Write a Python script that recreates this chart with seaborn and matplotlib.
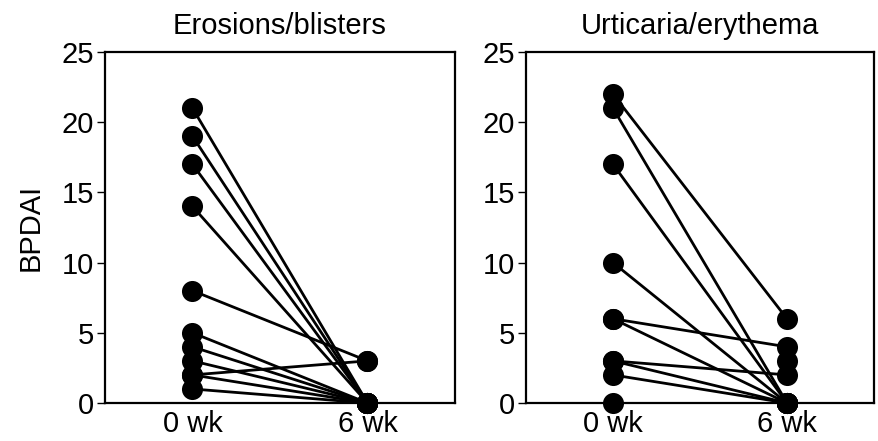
import numpy as np
import pandas as pd
import matplotlib
matplotlib.use("Agg")
import matplotlib.pyplot as plt
import seaborn as sns

sns.set_style("white")
plt.rcParams['font.family'] = ['Liberation Sans', 'DejaVu Sans']
plt.rcParams['text.color'] = 'black'
plt.rcParams['xtick.color'] = 'black'
plt.rcParams['ytick.color'] = 'black'
plt.rcParams['axes.labelcolor'] = 'black'

times = ["0 wk", "6 wk"]
panel_titles = ["Erosions/blisters", "Urticaria/erythema"]

# Erosions/blisters: paired values per patient
ero_0wk = [21, 19, 17, 14, 8, 5, 4, 3, 2, 2, 1]
ero_6wk = [0, 0, 0, 0, 3, 0, 0, 0, 3, 0, 0]

# Urticaria/erythema: paired values per patient (one 6 wk point without visible 0 wk partner)
urt_0wk = [22, 21, 17, 10, 6, 6, 3, 3, 2, 0, np.nan]
urt_6wk = [6, 0, 0, 0, 4, 0, 2, 0, 0, 0, 3]

yticks = [0, 5, 10, 15, 20, 25]


def long_df(v0, v6):
    rows = []
    for i, (a, b) in enumerate(zip(v0, v6)):
        rows.append({"patient": i, "time": times[0], "BPDAI": a})
        rows.append({"patient": i, "time": times[1], "BPDAI": b})
    return pd.DataFrame(rows)


W, H = 879, 441
FS = 21
fig = plt.figure(figsize=(W / 100, H / 100), dpi=100)
axes = [
    fig.add_axes([105 / W, 1 - 403 / H, 350 / W, 351 / H]),
    fig.add_axes([526 / W, 1 - 403 / H, 348 / W, 351 / H]),
]

for ax, title, (v0, v6) in zip(axes, panel_titles, [(ero_0wk, ero_6wk), (urt_0wk, urt_6wk)]):
    df = long_df(v0, v6)
    df["x"] = df["time"].map({t: i for i, t in enumerate(times)})
    sns.lineplot(data=df.dropna(), x="x", y="BPDAI", units="patient", estimator=None,
                 color="black", lw=2.0, sort=False, ax=ax, legend=False)
    sns.scatterplot(data=df.dropna(), x="x", y="BPDAI", color="black", s=230,
                    edgecolor="black", linewidth=0, ax=ax, legend=False, clip_on=False, zorder=5)
    ax.set_xlim(-0.5, 1.5)
    ax.set_ylim(0, 25)
    ax.set_xticks([0, 1])
    ax.set_xticklabels(times, fontsize=FS)
    ax.set_yticks(yticks)
    ax.set_yticklabels([str(t) for t in yticks], fontsize=FS)
    ax.tick_params(axis="y", direction="out", length=6, width=1, left=True, pad=2)
    ax.tick_params(axis="x", length=0, pad=5)
    for sp in ax.spines.values():
        sp.set_visible(True)
        sp.set_color("black")
        sp.set_linewidth(1.6)
    ax.set_title(title, fontsize=FS, pad=13)
    ax.set_xlabel("")
    ax.set_ylabel("")

axes[0].set_ylabel("BPDAI", fontsize=FS, labelpad=12)

fig.savefig("out.png", dpi=100)
